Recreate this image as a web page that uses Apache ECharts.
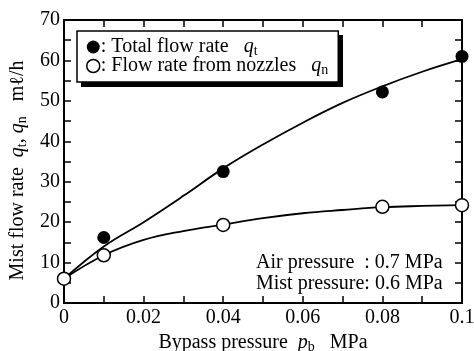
<!DOCTYPE html>
<html>
<head>
<meta charset="utf-8">
<script src="https://cdn.jsdelivr.net/npm/echarts@6/dist/echarts.min.js"></script>
<style>
  html, body { margin: 0; padding: 0; background: #fff; }
  #chart { width: 474px; height: 351px; }
</style>
</head>
<body>
<div id="chart"></div>
<script>
// Measured points: bypass pressure (MPa) vs mist flow rate (mℓ/h)
var bypassPressure = [0, 0.01, 0.04, 0.08, 0.1];
var totalFlow = [6.0, 16.2, 32.5, 52.2, 61.0];
var nozzleFlow = [6.0, 11.8, 19.3, 23.8, 24.2];

// Hand-fitted trend curves, sampled every 0.01 MPa
var curveX = [0, 0.01, 0.02, 0.03, 0.04, 0.05, 0.06, 0.07, 0.08, 0.09, 0.1];
var totalCurve = [6.0, 14.0, 20.0, 26.5, 33.3, 39.2, 44.6, 49.5, 53.6, 57.2, 60.3];
var nozzleCurve = [6.0, 11.8, 15.6, 17.8, 19.4, 21.0, 22.2, 23.0, 23.7, 24.0, 24.2];

// Axis tick labels
var xTickValues = [0, 0.02, 0.04, 0.06, 0.08, 0.1];
var xTickLabels = ['0', '0.02', '0.04', '0.06', '0.08', '0.1'];
var yTickValues = [0, 10, 20, 30, 40, 50, 60, 70];
var yTickLabels = ['0', '10', '20', '30', '40', '50', '60', '70'];

var FONT = '"Liberation Serif", "Times New Roman", serif';

function pairs(xs, ys) {
  return xs.map(function (x, i) { return [x, ys[i]]; });
}
function xLabel(v) {
  for (var i = 0; i < xTickValues.length; i++) {
    if (Math.abs(v - xTickValues[i]) < 1e-9) return xTickLabels[i];
  }
  return '';
}
function yLabel(v) {
  for (var i = 0; i < yTickValues.length; i++) {
    if (Math.abs(v - yTickValues[i]) < 1e-9) return yTickLabels[i];
  }
  return '';
}

var axisLine = { show: true, onZero: false, lineStyle: { color: '#000', width: 2 } };
var tickInside = { show: true, inside: true, length: 7, lineStyle: { color: '#000', width: 1.5 } };

var richTitle = {
  t: { fontSize: 20, fontFamily: FONT, color: '#000' },
  i: { fontSize: 20, fontFamily: FONT, fontStyle: 'italic', color: '#000' },
  s: { fontSize: 14, fontFamily: FONT, color: '#000', verticalAlign: 'bottom', padding: [8, 0, 0, 0] }
};

var chart = echarts.init(document.getElementById('chart'), null, { renderer: 'canvas' });

chart.setOption({
  animation: false,
  backgroundColor: '#fff',
  textStyle: { fontFamily: FONT, color: '#000' },
  grid: { left: 64, right: 12, top: 20, bottom: 48, containLabel: false, outerBoundsMode: 'none' },
  xAxis: [{
    type: 'value', min: 0, max: 0.1, interval: 0.01, position: 'bottom',
    axisLine: axisLine, axisTick: tickInside, splitLine: { show: false },
    axisLabel: { formatter: xLabel, fontSize: 20, color: '#000', fontFamily: FONT, margin: 5, showMaxLabel: true },
    name: '{t|Bypass pressure  }{i|p}{s|b}{t|   MPa}',
    nameLocation: 'middle', nameGap: 26,
    nameTextStyle: { rich: richTitle }
  }, {
    type: 'value', min: 0, max: 0.1, interval: 0.01, position: 'top',
    axisLine: axisLine, axisTick: tickInside, axisLabel: { show: false }, splitLine: { show: false }
  }],
  yAxis: [{
    type: 'value', min: 0, max: 70, interval: 5, position: 'left',
    axisLine: axisLine, axisTick: tickInside, splitLine: { show: false },
    axisLabel: { formatter: yLabel, fontSize: 20, color: '#000', fontFamily: FONT, margin: 4 },
    name: '{t|Mist flow rate  }{i|q}{s|t}{t|, }{i|q}{s|n}{t|   mℓ/h}',
    nameLocation: 'middle', nameGap: 35, nameRotate: 90,
    nameTextStyle: { rich: richTitle, padding: [0, 18, 0, 0] }
  }, {
    type: 'value', min: 0, max: 70, interval: 5, position: 'right',
    axisLine: axisLine, axisTick: tickInside, axisLabel: { show: false }, splitLine: { show: false }
  }],
  legend: {
    left: 77, top: 31, orient: 'vertical',
    padding: [6, 10, 5, 9], itemGap: -2,
    itemWidth: 13, itemHeight: 13,
    backgroundColor: '#fff', borderColor: '#000', borderWidth: 1.5, borderRadius: 0,
    selectedMode: false, z: 6,
    data: [
      { name: 'total', icon: 'circle', itemStyle: { color: '#000', borderWidth: 0 } },
      { name: 'nozzle', icon: 'circle', itemStyle: { color: '#fff', borderColor: '#000', borderWidth: 1.5 } }
    ],
    formatter: function (name) {
      if (name === 'total') return '{t|: Total flow rate   }{i|q}{s|t}';
      return '{t|: Flow rate from nozzles   }{i|q}{s|n}';
    },
    textStyle: {
      padding: [0, 0, 0, -4],
      rich: {
        t: { fontSize: 20, fontFamily: FONT, color: '#000', lineHeight: 20 },
        i: { fontSize: 20, fontFamily: FONT, fontStyle: 'italic', color: '#000', lineHeight: 20 },
        s: { fontSize: 14, fontFamily: FONT, color: '#000', verticalAlign: 'bottom', padding: [8, 0, 0, 0] }
      }
    }
  },
  graphic: [{
    // solid drop shadow behind the legend box
    type: 'rect', z: 5,
    shape: { x: 81, y: 35, width: 262, height: 52 },
    style: { fill: '#000' }
  }, {
    type: 'text', left: 256, top: 252,
    style: {
      text: 'Air pressure  : 0.7 MPa\nMist pressure: 0.6 MPa',
      font: '20px ' + FONT, fill: '#000', lineHeight: 21
    }
  }],
  series: [{
    name: 'totalCurve', type: 'line', data: pairs(curveX, totalCurve),
    smooth: 0.4, showSymbol: false, symbol: 'none',
    lineStyle: { color: '#000', width: 1.8 }, z: 2
  }, {
    name: 'nozzleCurve', type: 'line', data: pairs(curveX, nozzleCurve),
    smooth: 0.4, showSymbol: false, symbol: 'none',
    lineStyle: { color: '#000', width: 1.8 }, z: 2
  }, {
    name: 'total', type: 'scatter', data: pairs(bypassPressure, totalFlow),
    symbol: 'circle', symbolSize: 13,
    itemStyle: { color: '#000', opacity: 1 }, z: 3
  }, {
    name: 'nozzle', type: 'scatter', data: pairs(bypassPressure, nozzleFlow),
    symbol: 'circle', symbolSize: 13,
    itemStyle: { color: '#fff', borderColor: '#000', borderWidth: 1.5, opacity: 1 }, z: 4
  }]
});
</script>
</body>
</html>
